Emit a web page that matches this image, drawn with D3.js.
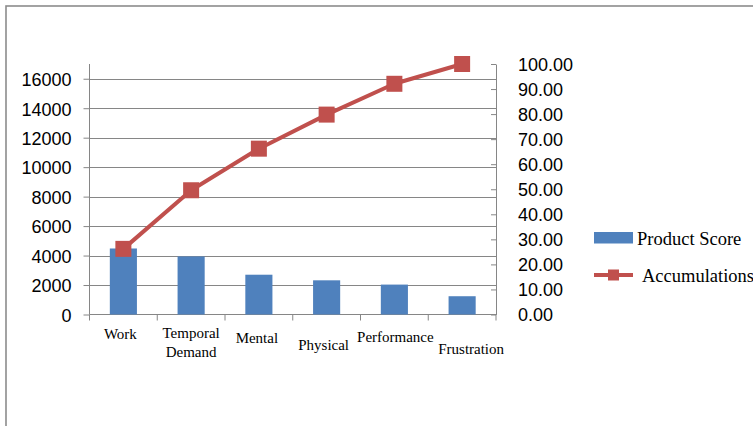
<!DOCTYPE html>
<html>
<head>
<meta charset="utf-8">
<script src="https://cdn.jsdelivr.net/npm/d3@7"></script>
<style>
  html, body { margin: 0; padding: 0; background: #fff; }
  svg { display: block; }
</style>
</head>
<body>
<svg id="chart" width="753" height="426"></svg>
<script>
// Workload dimensions, product scores and cumulative percentages
const categories = ["Work", "Temporal Demand", "Mental", "Physical", "Performance", "Frustration"];
const productScore = [4480, 3940, 2700, 2320, 2030, 1240];
const accumulations = [26.2, 49.6, 66.2, 79.8, 92.1, 100.0];
const leftTicks = [0, 2000, 4000, 6000, 8000, 10000, 12000, 14000, 16000];
const rightTicks = [0, 10, 20, 30, 40, 50, 60, 70, 80, 90, 100];

// Category label placement (horizontal nudge, first-line baseline)
const labelLayout = [
  { dx: -3, y: 339 },
  { dx: 0, y: 337.5 },
  { dx: -2, y: 343 },
  { dx: -3, y: 349.5 },
  { dx: 1, y: 342 },
  { dx: 9, y: 354 }
];

const svg = d3.select("#chart");
const axisColor = "#868686";
const barColor = "#4F81BD";
const lineColor = "#C0504D";
const numFont = "'Liberation Sans', Arial, sans-serif";
const serifFont = "'Liberation Serif', 'Times New Roman', serif";

const plot = { left: 89.5, right: 496, top: 64, bottom: 314.5 };

// outer frame
svg.append("rect")
  .attr("x", 6).attr("y", 6).attr("width", 800).attr("height", 480)
  .attr("fill", "none").attr("stroke", "#8c8c8c").attr("stroke-width", 1.6);

const x = d3.scaleBand().domain(categories).range([plot.left, plot.right]).padding(0);
const yL = d3.scaleLinear().domain([0, 17000]).range([plot.bottom, plot.top]);
const yR = d3.scaleLinear().domain([0, 100]).range([plot.bottom, plot.top]);

// horizontal gridlines
svg.append("g").selectAll("line")
  .data(leftTicks.filter(d => d > 0))
  .join("line")
  .attr("x1", plot.left).attr("x2", plot.right)
  .attr("y1", d => Math.round(yL(d)) + 0.5).attr("y2", d => Math.round(yL(d)) + 0.5)
  .attr("stroke", axisColor).attr("stroke-width", 1);

// left axis
const gL = svg.append("g").attr("transform", `translate(${plot.left},0)`)
  .call(d3.axisLeft(yL).tickValues(leftTicks).tickSize(6).tickPadding(12).tickFormat(d3.format("d")));
gL.select(".domain").attr("stroke", axisColor).attr("d", `M0,${plot.top}V${plot.bottom}`);
gL.selectAll(".tick line").attr("stroke", axisColor);
gL.selectAll(".tick text").attr("font-family", numFont).attr("font-size", 18).attr("fill", "#000").attr("dy", "0.38em");

// right axis with inward ticks
const gR = svg.append("g").attr("transform", `translate(${plot.right},0)`)
  .call(d3.axisRight(yR).tickValues(rightTicks).tickSizeInner(-5).tickSizeOuter(0).tickPadding(22).tickFormat(d3.format(".2f")));
gR.select(".domain").attr("stroke", axisColor);
gR.selectAll(".tick line").attr("stroke", axisColor);
gR.selectAll(".tick text").attr("font-family", numFont).attr("font-size", 18).attr("fill", "#000").attr("dy", "0.36em");

// category axis
svg.append("line")
  .attr("x1", plot.left).attr("x2", plot.right)
  .attr("y1", plot.bottom).attr("y2", plot.bottom)
  .attr("stroke", axisColor);
const bounds = categories.map(c => x(c)).concat([x.range()[1]]);
svg.append("g").selectAll("line")
  .data(bounds)
  .join("line")
  .attr("x1", d => d).attr("x2", d => d)
  .attr("y1", plot.bottom).attr("y2", plot.bottom + 6)
  .attr("stroke", axisColor);

// bars
const barW = x.bandwidth() * 0.4;
svg.append("g").selectAll("rect")
  .data(categories)
  .join("rect")
  .attr("x", (c) => x(c) + x.bandwidth() / 2 - barW / 2)
  .attr("y", (c, i) => yL(productScore[i]))
  .attr("width", barW)
  .attr("height", (c, i) => plot.bottom - yL(productScore[i]))
  .attr("fill", barColor);

// cumulative line
const cx = (c) => x(c) + x.bandwidth() / 2;
const line = d3.line().x((d, i) => cx(categories[i])).y(d => yR(d));
svg.append("path")
  .datum(accumulations)
  .attr("d", line)
  .attr("fill", "none")
  .attr("stroke", lineColor)
  .attr("stroke-width", 4)
  .attr("stroke-linejoin", "round");

const mk = 16;
svg.append("g").selectAll("rect")
  .data(accumulations)
  .join("rect")
  .attr("x", (d, i) => cx(categories[i]) - mk / 2)
  .attr("y", d => yR(d) - mk / 2)
  .attr("width", mk).attr("height", mk)
  .attr("fill", lineColor);

// category labels
const labels = svg.append("g")
  .attr("font-family", serifFont).attr("font-size", 15).attr("fill", "#000")
  .attr("text-anchor", "middle");
categories.forEach((c, i) => {
  const t = labels.append("text")
    .attr("x", cx(c) + labelLayout[i].dx)
    .attr("y", labelLayout[i].y);
  c.split(" ").forEach((w, j) => {
    t.append("tspan")
      .attr("x", cx(c) + labelLayout[i].dx)
      .attr("dy", j === 0 ? 0 : 19.5)
      .text(w);
  });
});

// legend
const lg = svg.append("g").attr("font-family", serifFont).attr("font-size", 18.5).attr("fill", "#000");
lg.append("rect").attr("x", 594).attr("y", 232).attr("width", 39).attr("height", 11.5).attr("fill", barColor);
lg.append("text").attr("x", 637).attr("y", 245).text("Product Score");
lg.append("line").attr("x1", 594).attr("x2", 633).attr("y1", 275).attr("y2", 275)
  .attr("stroke", lineColor).attr("stroke-width", 4);
lg.append("rect").attr("x", 608).attr("y", 269.5).attr("width", 11).attr("height", 11).attr("fill", lineColor);
lg.append("text").attr("x", 642).attr("y", 282).text("Accumulations");
</script>
</body>
</html>
